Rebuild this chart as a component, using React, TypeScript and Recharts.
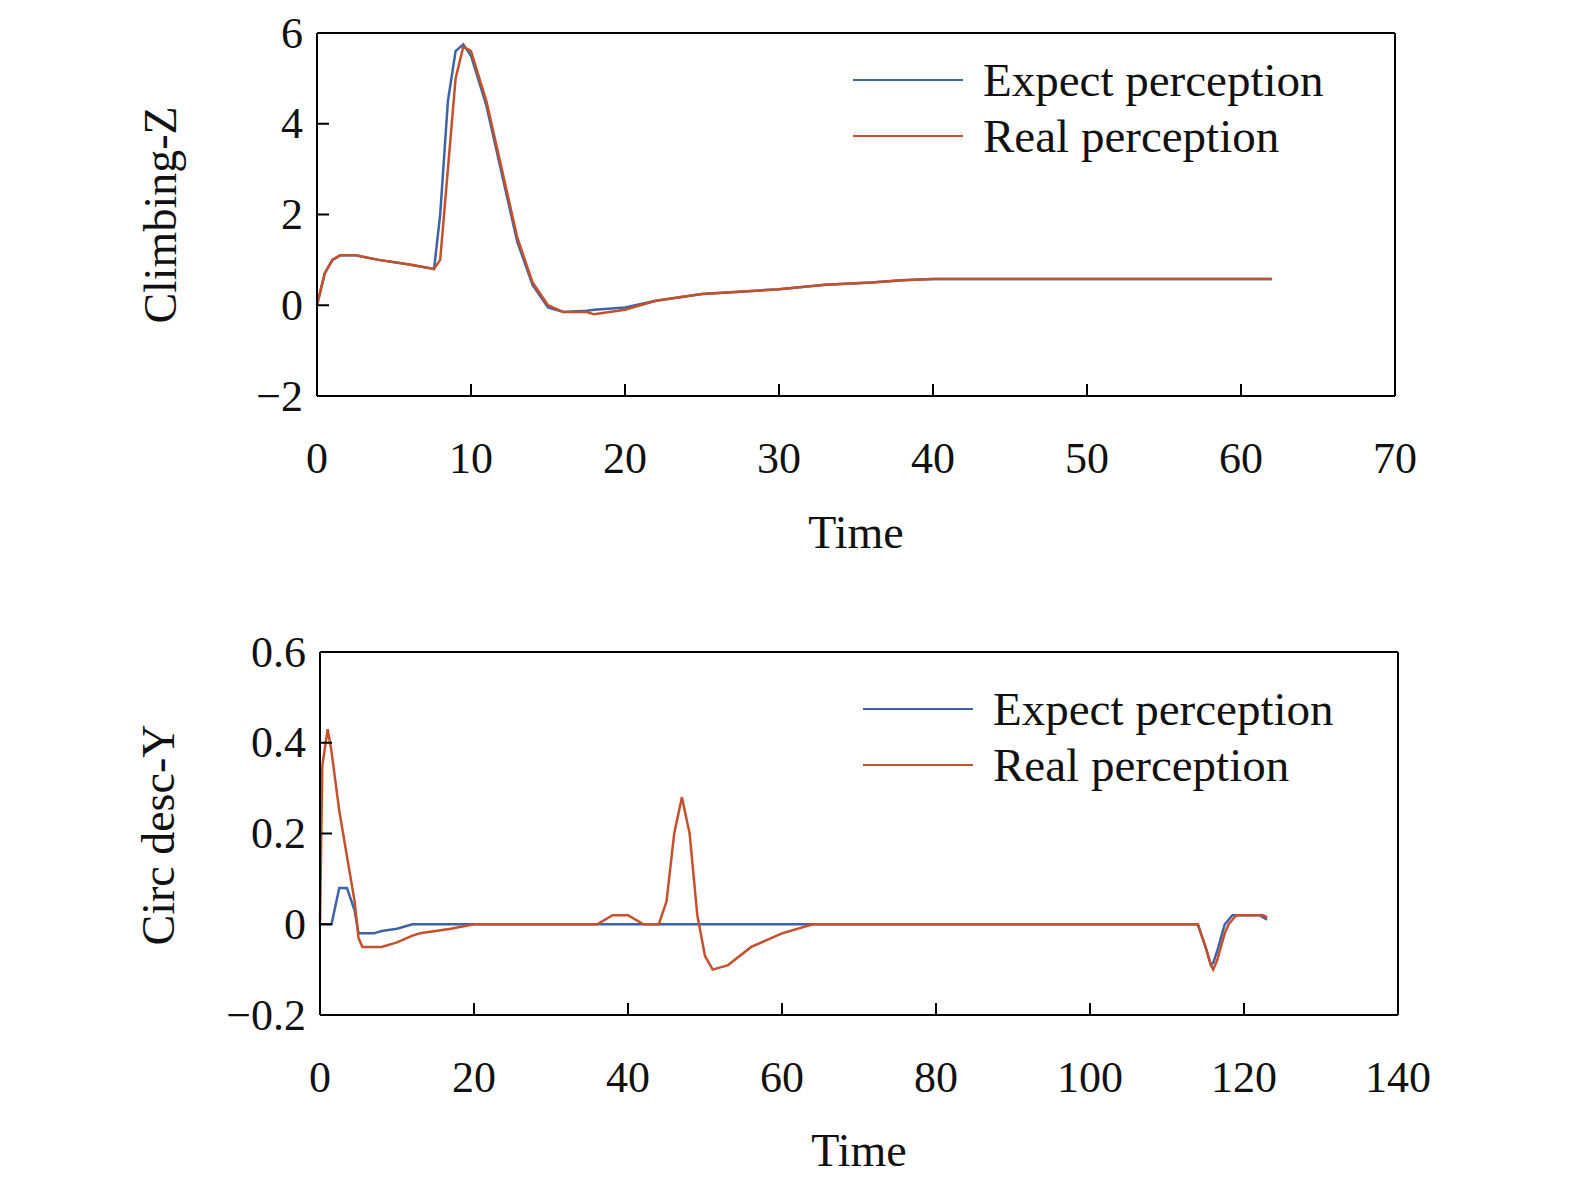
import React from "react"
import { LineChart, Line, XAxis, YAxis } from "recharts"

const climbTime = [0, 0.5, 1, 1.5, 2.5, 4, 6, 7.6, 8, 8.5, 9, 9.5, 10, 11, 12, 13, 14, 15, 16, 17.5, 18, 20, 22, 25, 30, 33, 36, 38, 40, 50, 62]
const climbExpect = [0, 0.7, 1.0, 1.1, 1.1, 1.0, 0.9, 0.8, 2.0, 4.5, 5.6, 5.75, 5.5, 4.4, 2.9, 1.4, 0.45, -0.05, -0.15, -0.12, -0.1, -0.05, 0.1, 0.25, 0.35, 0.45, 0.5, 0.55, 0.58, 0.58, 0.58]
const climbReal = [0, 0.7, 1.0, 1.1, 1.1, 1.0, 0.9, 0.8, 1.0, 3.0, 5.0, 5.7, 5.6, 4.5, 3.0, 1.5, 0.5, 0, -0.15, -0.15, -0.2, -0.1, 0.1, 0.25, 0.35, 0.45, 0.5, 0.55, 0.58, 0.58, 0.58]

const circTime = [0, 0.3, 1, 1.5, 2.5, 3, 3.5, 4.5, 5, 5.5, 7, 8, 10, 12, 13, 17, 20, 36, 38, 40, 42, 44, 45, 46, 47, 48, 49, 50, 51, 53, 56, 60, 64, 114, 115, 115.7, 116, 116.5, 117, 117.5, 118, 118.5, 119, 122, 122.5, 123]
const circExpect = [0, 0, 0, 0, 0.08, 0.08, 0.08, 0.03, -0.02, -0.02, -0.02, -0.015, -0.01, 0, 0, 0, 0, 0, 0, 0, 0, 0, 0, 0, 0, 0, 0, 0, 0, 0, 0, 0, 0, 0, -0.05, -0.09, -0.085, -0.06, -0.03, 0, 0.01, 0.02, 0.02, 0.02, 0.015, 0.01]
const circReal = [0, 0.35, 0.43, 0.38, 0.25, 0.2, 0.15, 0.05, -0.03, -0.05, -0.05, -0.05, -0.04, -0.025, -0.02, -0.01, 0, 0, 0.02, 0.02, 0, 0, 0.05, 0.2, 0.28, 0.2, 0.02, -0.07, -0.1, -0.09, -0.05, -0.02, 0, 0, -0.05, -0.09, -0.1, -0.08, -0.05, -0.02, 0, 0.01, 0.02, 0.02, 0.02, 0.015]

const climbXTicks = [0, 10, 20, 30, 40, 50, 60, 70]
const climbYTicks = [-2, 0, 2, 4, 6]
const circXTicks = [0, 20, 40, 60, 80, 100, 120, 140]
const circYTicks = [-0.2, 0, 0.2, 0.4, 0.6]

const BLUE = "#3d64a8"
const RED = "#c4502c"
const FONT = "'Liberation Serif', 'Times New Roman', serif"

const climbData = climbTime.map((t, i) => ({ t, expect: climbExpect[i], real: climbReal[i] }))
const circData = circTime.map((t, i) => ({ t, expect: circExpect[i], real: circReal[i] }))

function renderXTick(props: any) {
  const { x, y, payload } = props
  return (
    <g key={"x" + payload.value}>
      <line x1={x} y1={y} x2={x} y2={y - 12} stroke="#000" strokeWidth={2} />
      <text x={x} y={y + 62} textAnchor="middle" dominantBaseline="central" fontSize={44} fontFamily={FONT} fill="#111">
        {payload.value}
      </text>
    </g>
  )
}

function renderYTick(props: any) {
  const { x, y, payload } = props
  const v = payload.value
  const label = v < 0 ? "\u2212" + String(Math.abs(v)) : String(v)
  return (
    <g key={"y" + v}>
      <line x1={x} y1={y} x2={x + 12} y2={y} stroke="#000" strokeWidth={2} />
      <text x={x - 14} y={y} textAnchor="end" dominantBaseline="central" fontSize={44} fontFamily={FONT} fill="#111">
        {label}
      </text>
    </g>
  )
}

function Panel({ data, xTicks, yTicks, xMax, yDomain, margin, height }: any) {
  const axis = { stroke: "#000", strokeWidth: 2 }
  return (
    <LineChart width={1575} height={height} data={data} margin={margin}>
      <XAxis dataKey="t" type="number" domain={[0, xMax]} ticks={xTicks} tickSize={0} tickMargin={0} height={1} axisLine={axis} tick={renderXTick} interval={0} />
      <XAxis xAxisId="top" orientation="top" dataKey="t" type="number" domain={[0, xMax]} height={1} tick={false} tickLine={false} axisLine={axis} />
      <YAxis type="number" domain={yDomain} ticks={yTicks} tickSize={0} tickMargin={0} width={1} axisLine={axis} tick={renderYTick} interval={0} />
      <YAxis yAxisId="right" orientation="right" type="number" domain={yDomain} width={1} tick={false} tickLine={false} axisLine={axis} />
      <Line dataKey="expect" stroke={BLUE} strokeWidth={2.5} dot={false} isAnimationActive={false} />
      <Line dataKey="real" stroke={RED} strokeWidth={2.5} dot={false} isAnimationActive={false} />
    </LineChart>
  )
}

function Legend({ left, top }: { left: number; top: number }) {
  const item = (color: string, label: string, dy: number) => (
    <div style={{ position: "absolute", left, top: top + dy, display: "flex", alignItems: "center", fontFamily: FONT, fontSize: 47, color: "#111", whiteSpace: "nowrap", height: 50 }}>
      <div style={{ width: 110, height: 2.5, background: color, marginRight: 20 }} />
      {label}
    </div>
  )
  return (
    <>
      {item(BLUE, "Expect perception", 0)}
      {item(RED, "Real perception", 56)}
    </>
  )
}

const textStyle: React.CSSProperties = { position: "absolute", fontFamily: FONT, fontSize: 46, color: "#111", whiteSpace: "nowrap" }

export default function App() {
  return (
    <div style={{ position: "absolute", left: 0, top: 0, width: 1575, height: 1193, background: "#fff" }}>
      <div style={{ position: "absolute", left: 0, top: 0 }}>
        <Panel data={climbData} xTicks={climbXTicks} yTicks={climbYTicks} xMax={70} yDomain={[-2, 6]} height={600} margin={{ top: 32, right: 179, left: 316, bottom: 203 }} />
      </div>
      <div style={{ position: "absolute", left: 0, top: 600 }}>
        <Panel data={circData} xTicks={circXTicks} yTicks={circYTicks} xMax={140} yDomain={[-0.2, 0.6]} height={593} margin={{ top: 51, right: 176, left: 319, bottom: 177 }} />
      </div>
      <Legend left={853} top={55} />
      <Legend left={863} top={684} />
      <div style={{ ...textStyle, left: 856, top: 532, transform: "translate(-50%, -50%)" }}>Time</div>
      <div style={{ ...textStyle, left: 859, top: 1150, transform: "translate(-50%, -50%)" }}>Time</div>
      <div style={{ ...textStyle, left: 160, top: 215, transform: "translate(-50%, -50%) rotate(-90deg)" }}>Climbing-Z</div>
      <div style={{ ...textStyle, left: 158, top: 835, transform: "translate(-50%, -50%) rotate(-90deg)" }}>Circ desc-Y</div>
    </div>
  )
}
